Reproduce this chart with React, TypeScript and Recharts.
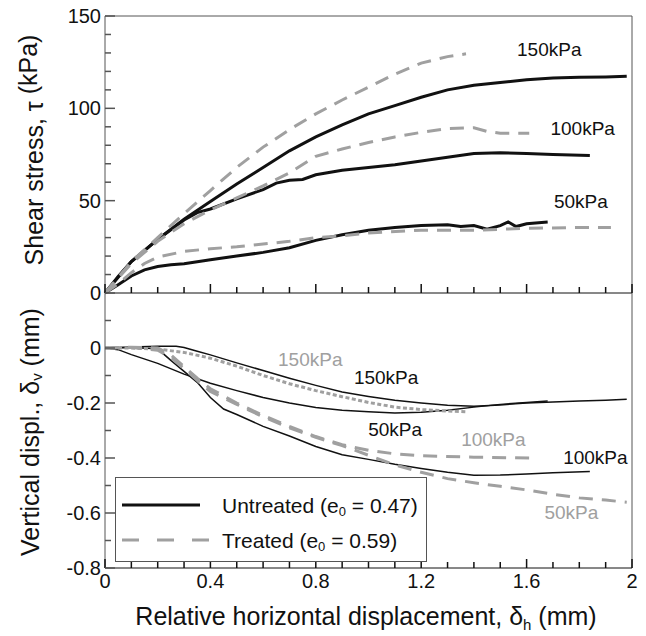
import React from 'react';
import { LineChart, Line, XAxis, YAxis, ReferenceLine, ReferenceDot, Label, Legend } from 'recharts';

const FONT = '"Liberation Sans", Arial, Helvetica, sans-serif';
const INK = '#111111';
const GREY = '#a0a0a0';
const FRAME = '#555555';

// shared x axis (relative horizontal displacement, mm)
const xTicks = [0, 0.1, 0.2, 0.3, 0.4, 0.5, 0.6, 0.7, 0.8, 0.9, 1, 1.1, 1.2, 1.3, 1.4, 1.5, 1.6, 1.7, 1.8, 1.9, 2];
const xMajor = [0, 0.4, 0.8, 1.2, 1.6, 2];

// upper panel: shear stress (kPa)
const tauTicks = [0, 10, 20, 30, 40, 50, 60, 70, 80, 90, 100, 110, 120, 130, 140, 150];
const tauMajor = [0, 50, 100, 150];

// lower panel: vertical displacement (mm)
const dvTicks = [-0.8, -0.7, -0.6, -0.5, -0.4, -0.3, -0.2, -0.1, 0, 0.1];
const dvMajor = [-0.8, -0.6, -0.4, -0.2, 0];

// shear stress curves [dh, tau]
const tauU150 = [[0, 0], [0.05, 9], [0.1, 17], [0.2, 29], [0.3, 40], [0.4, 49.5], [0.5, 59], [0.6, 68], [0.7, 77], [0.8, 84.5], [0.9, 91], [1.0, 97], [1.1, 101.5], [1.2, 106], [1.3, 110], [1.4, 112.5], [1.5, 114], [1.6, 115.5], [1.7, 116.4], [1.8, 116.8], [1.9, 117], [1.98, 117.4]];
const tauU100 = [[0, 0], [0.1, 17], [0.2, 29], [0.3, 39.5], [0.35, 43.5], [0.4, 45.5], [0.5, 51], [0.6, 56], [0.65, 59.5], [0.7, 61], [0.75, 61.5], [0.8, 64], [0.9, 66.5], [1.0, 68], [1.1, 69.5], [1.2, 71.5], [1.3, 73.5], [1.4, 75.5], [1.5, 76], [1.6, 75.5], [1.7, 75], [1.84, 74.5]];
const tauU50 = [[0, 0], [0.05, 4.5], [0.1, 9.2], [0.15, 12.5], [0.2, 14.3], [0.25, 15.3], [0.3, 15.8], [0.4, 18], [0.5, 20], [0.6, 22], [0.7, 24.5], [0.8, 28.5], [0.9, 31.5], [1.0, 34], [1.1, 35.5], [1.2, 36.5], [1.3, 37], [1.35, 36], [1.4, 36.5], [1.45, 34.5], [1.5, 36.5], [1.53, 38.5], [1.56, 36], [1.6, 37.5], [1.68, 38.5]];
const tauT150 = [[0, 0], [0.1, 17], [0.2, 30], [0.3, 43], [0.4, 55.5], [0.5, 68], [0.6, 79], [0.7, 88.5], [0.8, 97], [0.9, 104.5], [1.0, 111.5], [1.1, 118.5], [1.2, 124.5], [1.3, 128], [1.37, 129.5]];
const tauT100 = [[0, 0], [0.1, 16], [0.2, 28], [0.3, 37.5], [0.4, 45], [0.5, 51.5], [0.6, 58], [0.7, 65], [0.8, 74], [0.9, 78], [1.0, 81.5], [1.1, 84.5], [1.2, 87], [1.3, 89], [1.4, 89.5], [1.45, 87.5], [1.5, 86.5], [1.61, 86.5]];
const tauT50 = [[0, 0], [0.05, 5], [0.1, 11], [0.15, 16], [0.2, 19.5], [0.3, 22.5], [0.4, 24], [0.5, 25], [0.6, 26.5], [0.7, 28], [0.8, 30], [0.9, 31], [1.0, 32.5], [1.2, 34], [1.4, 34], [1.6, 35], [1.8, 35.5], [1.92, 35.5]];

// vertical displacement curves [dh, dv]
const dvU150 = [[0, 0], [0.1, 0.004], [0.2, 0.006], [0.27, 0.006], [0.3, 0.002], [0.35, -0.012], [0.4, -0.025], [0.5, -0.054], [0.6, -0.082], [0.7, -0.11], [0.8, -0.136], [0.9, -0.16], [1.0, -0.176], [1.1, -0.19], [1.2, -0.2], [1.3, -0.208], [1.4, -0.212], [1.5, -0.207], [1.6, -0.2], [1.7, -0.196], [1.8, -0.193], [1.9, -0.19], [1.98, -0.186]];
const dvU100 = [[0, 0], [0.1, 0.002], [0.2, -0.003], [0.25, -0.045], [0.3, -0.085], [0.35, -0.125], [0.4, -0.18], [0.45, -0.222], [0.5, -0.242], [0.6, -0.285], [0.7, -0.32], [0.8, -0.358], [0.9, -0.388], [1.0, -0.405], [1.1, -0.423], [1.2, -0.438], [1.3, -0.452], [1.4, -0.463], [1.5, -0.462], [1.6, -0.458], [1.7, -0.454], [1.84, -0.449]];
const dvU50 = [[0, 0], [0.05, -0.006], [0.1, -0.024], [0.2, -0.056], [0.3, -0.095], [0.4, -0.128], [0.5, -0.155], [0.6, -0.18], [0.7, -0.2], [0.8, -0.216], [0.9, -0.226], [1.0, -0.232], [1.1, -0.236], [1.2, -0.234], [1.3, -0.226], [1.4, -0.215], [1.5, -0.205], [1.6, -0.198], [1.68, -0.193]];
const dvT150 = [[0, 0], [0.1, 0], [0.2, -0.004], [0.3, -0.016], [0.4, -0.037], [0.5, -0.066], [0.6, -0.1], [0.7, -0.13], [0.8, -0.155], [0.9, -0.177], [1.0, -0.198], [1.1, -0.215], [1.2, -0.224], [1.3, -0.229], [1.37, -0.232]];
const dvT100 = [[0, 0], [0.1, 0.003], [0.2, 0], [0.25, -0.025], [0.3, -0.068], [0.35, -0.11], [0.4, -0.148], [0.5, -0.2], [0.6, -0.245], [0.7, -0.285], [0.8, -0.322], [0.9, -0.352], [1.0, -0.372], [1.1, -0.385], [1.2, -0.392], [1.4, -0.397], [1.61, -0.4]];
const dvT50 = [[0, 0], [0.1, 0.002], [0.2, -0.008], [0.25, -0.035], [0.3, -0.075], [0.35, -0.118], [0.4, -0.158], [0.5, -0.205], [0.6, -0.25], [0.7, -0.29], [0.8, -0.325], [0.9, -0.355], [1.0, -0.39], [1.1, -0.425], [1.2, -0.452], [1.3, -0.475], [1.4, -0.49], [1.5, -0.503], [1.6, -0.516], [1.7, -0.532], [1.8, -0.545], [1.9, -0.553], [1.98, -0.561]];

// curve labels, anchored in data units
const tauNotes = [
  { text: '150kPa', x: 1.686, y: 132, grey: false },
  { text: '100kPa', x: 1.813, y: 89, grey: false },
  { text: '50kPa', x: 1.806, y: 49.5, grey: false },
];
const dvNotes = [
  { text: '150kPa', x: 0.779, y: -0.041, grey: true },
  { text: '150kPa', x: 1.067, y: -0.108, grey: false },
  { text: '50kPa', x: 1.101, y: -0.295, grey: false },
  { text: '100kPa', x: 1.474, y: -0.332, grey: true },
  { text: '100kPa', x: 1.861, y: -0.396, grey: false },
  { text: '50kPa', x: 1.77, y: -0.598, grey: true },
];

const legendEntries = [
  { name: 'Untreated', e0: '0.47', grey: false },
  { name: 'Treated', e0: '0.59', grey: true },
];

const pts = (a: number[][]) => a.map(([x, y]) => ({ x, y }));
const near = (v: number, list: number[]) => list.some((m) => Math.abs(m - v) < 1e-6);

const tauSeries = [
  { id: 'tu150', data: tauU150, kind: 'untreated' },
  { id: 'tu100', data: tauU100, kind: 'untreated' },
  { id: 'tu50', data: tauU50, kind: 'untreated' },
  { id: 'tt150', data: tauT150, kind: 'treated' },
  { id: 'tt100', data: tauT100, kind: 'treated' },
  { id: 'tt50', data: tauT50, kind: 'treated' },
];
const dvSeries = [
  { id: 'du150', data: dvU150, kind: 'thin' },
  { id: 'du100', data: dvU100, kind: 'thin' },
  { id: 'du50', data: dvU50, kind: 'thin' },
  { id: 'dt150', data: dvT150, kind: 'dotted' },
  { id: 'dt100', data: dvT100, kind: 'treated' },
  { id: 'dt50', data: dvT50, kind: 'treated' },
];

const lineStyle = (kind: string) => {
  if (kind === 'untreated') return { stroke: INK, strokeWidth: 3 };
  if (kind === 'thin') return { stroke: INK, strokeWidth: 1.5 };
  if (kind === 'dotted') return { stroke: GREY, strokeWidth: 3, strokeDasharray: '4 2.5' };
  return { stroke: GREY, strokeWidth: 3, strokeDasharray: '14 9' };
};

function YTick(props: any) {
  const { x, y, payload, major } = props;
  const big = near(payload.value, major);
  return (
    <g>
      <line x1={x} x2={x + (big ? 10 : 6)} y1={y} y2={y} stroke={FRAME} strokeWidth={1.5} />
      {big && (
        <text x={x - 4} y={y} textAnchor="end" dominantBaseline="central" fontSize={20} fontFamily={FONT} fill={INK}>
          {payload.value}
        </text>
      )}
    </g>
  );
}

function XTick(props: any) {
  const { x, y, payload, showLabel } = props;
  const big = near(payload.value, xMajor);
  return (
    <g>
      <line x1={x} x2={x} y1={y} y2={y - (big ? 9 : 6)} stroke={INK} strokeWidth={1.5} />
      {showLabel && big && (
        <text x={x} y={y + 13} textAnchor="middle" dominantBaseline="central" fontSize={20} fontFamily={FONT} fill={INK}>
          {payload.value}
        </text>
      )}
    </g>
  );
}

function VTitle({ cx, cy, main, sub, tail }: { cx: number; cy: number; main: string; sub: string; tail: string }) {
  return (
    <text
      x={cx}
      y={cy}
      transform={`rotate(-90, ${cx}, ${cy})`}
      textAnchor="middle"
      dominantBaseline="central"
      fontSize={25}
      fontFamily={FONT}
      fill={INK}
    >
      {main}
      <tspan fontSize={15} dy={6}>{sub}</tspan>
      <tspan dy={-6}>{tail}</tspan>
    </text>
  );
}

function LegendBox() {
  return (
    <svg width={312} height={85} style={{ display: 'block' }}>
      <rect x={0.5} y={0.5} width={311} height={84} fill="#fff" stroke={FRAME} />
      {legendEntries.map((e, i) => {
        const cy = 28 + i * 35;
        return (
          <g key={e.name}>
            <line
              x1={7}
              x2={e.grey ? 95 : 85}
              y1={cy}
              y2={cy}
              stroke={e.grey ? GREY : INK}
              strokeWidth={3}
              strokeDasharray={e.grey ? '17 18' : undefined}
            />
            <text x={107} y={cy} dominantBaseline="central" fontSize={21} fontFamily={FONT} fill={INK}>
              {e.name} (e<tspan fontSize={13} dy={6}>0</tspan>
              <tspan dy={-6}> = {e.e0})</tspan>
            </text>
          </g>
        );
      })}
    </svg>
  );
}

const noteLabel = (text: string, grey: boolean) => ({
  value: text,
  position: 'center' as const,
  fill: grey ? GREY : INK,
  fontSize: 19,
  fontFamily: FONT,
});

export default function App() {
  return (
    <div style={{ position: 'absolute', left: 0, top: 0, width: 646, height: 636, background: '#fff', fontFamily: FONT }}>
      <div style={{ position: 'absolute', left: 0, top: 0 }}>
        <LineChart width={646} height={310} margin={{ top: 16, right: 14, bottom: 0, left: 0 }}>
          <XAxis
            type="number"
            dataKey="x"
            domain={[0, 2]}
            ticks={xTicks}
            interval={0}
            height={17}
            tickSize={0}
            tickMargin={0}
            tickLine={false}
            tick={<XTick showLabel={false} />}
            stroke={INK}
          />
          <YAxis
            type="number"
            domain={[0, 150]}
            ticks={tauTicks}
            interval={0}
            width={105}
            tickSize={0}
            tickMargin={0}
            tickLine={false}
            tick={<YTick major={tauMajor} />}
            stroke={FRAME}
          >
            <Label content={() => <VTitle cx={34} cy={150} main="Shear stress, τ" sub="" tail=" (kPa)" />} />
          </YAxis>
          <ReferenceLine y={150} stroke={FRAME} />
          <ReferenceLine x={2} stroke={FRAME} />
          {tauSeries.map((s) => (
            <Line
              key={s.id}
              data={pts(s.data)}
              dataKey="y"
              type="linear"
              dot={false}
              activeDot={false}
              isAnimationActive={false}
              {...lineStyle(s.kind)}
            />
          ))}
          {tauNotes.map((n, i) => (
            <ReferenceDot key={i} x={n.x} y={n.y} r={0} fill="none" stroke="none" label={noteLabel(n.text, n.grey)} />
          ))}
        </LineChart>
      </div>
      <div style={{ position: 'absolute', left: 0, top: 286 }}>
        <LineChart width={646} height={350} margin={{ top: 7, right: 14, bottom: 0, left: 0 }}>
          <XAxis
            type="number"
            dataKey="x"
            domain={[0, 2]}
            ticks={xTicks}
            interval={0}
            height={68}
            tickSize={0}
            tickMargin={0}
            tickLine={false}
            tick={<XTick showLabel />}
            stroke={INK}
          >
            <Label
              content={() => (
                <text x={366} y={339} textAnchor="middle" fontSize={25} fontFamily={FONT} fill={INK}>
                  Relative horizontal displacement, δ<tspan fontSize={15} dy={5}>h</tspan>
                  <tspan dy={-5}> (mm)</tspan>
                </text>
              )}
            />
          </XAxis>
          <YAxis
            type="number"
            domain={[-0.8, 0.2]}
            ticks={dvTicks}
            interval={0}
            width={105}
            tickSize={0}
            tickMargin={0}
            tickLine={false}
            tick={<YTick major={dvMajor} />}
            stroke={FRAME}
          >
            <Label content={() => <VTitle cx={30} cy={146} main="Vertical displ., δ" sub="v" tail=" (mm)" />} />
          </YAxis>
          <ReferenceLine x={2} stroke={FRAME} />
          {dvSeries.map((s) => (
            <Line
              key={s.id}
              data={pts(s.data)}
              dataKey="y"
              type="linear"
              dot={false}
              activeDot={false}
              isAnimationActive={false}
              {...lineStyle(s.kind)}
            />
          ))}
          {dvNotes.map((n, i) => (
            <ReferenceDot key={i} x={n.x} y={n.y} r={0} fill="none" stroke="none" label={noteLabel(n.text, n.grey)} />
          ))}
          <Legend
            layout="horizontal"
            verticalAlign="middle"
            align="center"
            wrapperStyle={{ left: 115, top: 191, width: 312, height: 85 }}
            content={<LegendBox />}
          />
        </LineChart>
      </div>
    </div>
  );
}
